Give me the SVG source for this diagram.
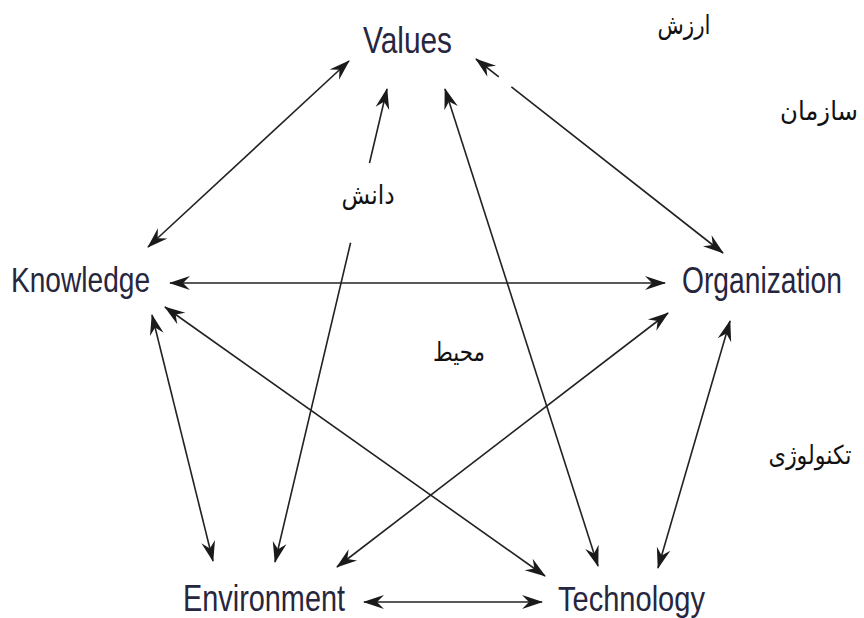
<svg xmlns="http://www.w3.org/2000/svg" width="864" height="618" viewBox="0 0 864 618">
  <style>
    .node { font-family: "Liberation Sans", Arial, sans-serif; font-size: 36px; fill: #26263e; }
    .fa { font-family: "DejaVu Sans", "Noto Sans", sans-serif; font-size: 26px; fill: #111; text-anchor: middle; }
    .edge { stroke: #222; stroke-width: 1.6; fill: none; marker-start: url(#head); marker-end: url(#head); }
  </style>
  <defs>
    <marker id="head" viewBox="-22 -9 24 18" refX="0" refY="0" markerWidth="24" markerHeight="18" markerUnits="userSpaceOnUse" orient="auto-start-reverse">
      <path d="M1,0 L-20,-7 L-13,0 L-20,7 Z" fill="#1a1a1a"/>
    </marker>
  </defs>
  <rect width="864" height="618" fill="#fff"/>

  <g id="connectors">
    <line class="edge" x1="349" y1="61" x2="148" y2="247"/>
    <line class="edge" x1="476" y1="59" x2="723" y2="253" stroke-dasharray="29 16 400"/>
    <line class="edge" x1="387" y1="89" x2="275" y2="562" stroke-dasharray="76 82 500"/>
    <line class="edge" x1="445" y1="89" x2="598" y2="566"/>
    <line class="edge" x1="170" y1="283" x2="665" y2="283"/>
    <line class="edge" x1="165" y1="307" x2="545" y2="576"/>
    <line class="edge" x1="152" y1="315" x2="213" y2="561"/>
    <line class="edge" x1="668" y1="313" x2="337" y2="567"/>
    <line class="edge" x1="730" y1="321" x2="658" y2="568"/>
    <line class="edge" x1="364" y1="602" x2="542" y2="602"/>
  </g>

  <!-- condensed labels: narrowed horizontally -->
  <g id="values">
    <text class="node" transform="translate(363,53) scale(0.809,1)" textLength="110" lengthAdjust="spacingAndGlyphs">Values</text>
  </g>
  <g id="knowledge">
    <text class="node" transform="translate(11,292) scale(0.781,1)" textLength="178" lengthAdjust="spacingAndGlyphs">Knowledge</text>
  </g>
  <g id="organization">
    <text class="node" transform="translate(682,293) scale(0.784,1)" textLength="204" lengthAdjust="spacingAndGlyphs">Organization</text>
  </g>
  <g id="environment">
    <text class="node" transform="translate(183,611) scale(0.802,1)" textLength="202" lengthAdjust="spacingAndGlyphs">Environment</text>
  </g>
  <g id="technology">
    <text class="node" transform="translate(558,611) scale(0.790,1)" textLength="186" lengthAdjust="spacingAndGlyphs">Technology</text>
  </g>

  <g id="persian-labels">
    <text class="fa" x="684" y="34" textLength="53" lengthAdjust="spacingAndGlyphs">ارزش</text>
    <text class="fa" x="819" y="120" textLength="78" lengthAdjust="spacingAndGlyphs">سازمان</text>
    <text class="fa" x="368" y="204" textLength="53" lengthAdjust="spacingAndGlyphs">دانش</text>
    <text class="fa" x="459" y="361" textLength="52" lengthAdjust="spacingAndGlyphs">محیط</text>
    <text class="fa" x="810" y="464" textLength="83" lengthAdjust="spacingAndGlyphs">تکنولوژی</text>
  </g>
</svg>
